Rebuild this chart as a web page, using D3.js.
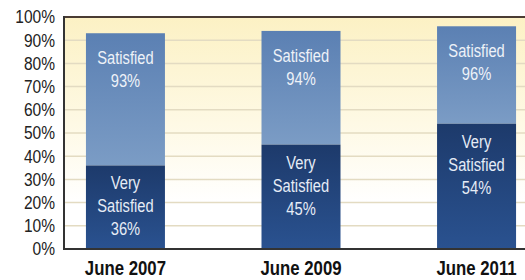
<!DOCTYPE html>
<html lang="en">
<head>
    <meta charset="UTF-8">
    <title>Satisfaction</title>
    <script src="https://d3js.org/d3.v7.min.js"></script>
</head>
<style>
    html,body {
        margin: 0;
        padding: 0;
        background: #fff;
    }
    text {
        font-family: "Liberation Sans", Arial, sans-serif;
    }
</style>
<body>
    <div id="svg"></div>
</body>
<script>
    // data
    const categories = ['June 2007', 'June 2009', 'June 2011'];
    const satisfied = [93, 94, 96];
    const verySatisfied = [36, 45, 54];
    const yTicks = [0, 10, 20, 30, 40, 50, 60, 70, 80, 90, 100];

    const W = 525, H = 280;
    const NARROW = 0.84; // squeeze text to look condensed
    const svg = d3.select('#svg').append('svg')
        .attr('width', W)
        .attr('height', H);

    const x = d3.scaleBand()
        .domain(categories)
        .range([64, 538])
        .paddingInner(0.55)
        .paddingOuter(0.125);
    const y = d3.scaleLinear().domain([0, 100]).range([249, 17]);

    // gradients
    const defs = svg.append('defs');
    function grad(id, stops) {
        const g = defs.append('linearGradient').attr('id', id)
            .attr('x1', 0).attr('y1', 0).attr('x2', 0).attr('y2', 1);
        stops.forEach(s => g.append('stop').attr('offset', s[0]).attr('stop-color', s[1]));
    }
    grad('bg', [[0, '#fcf1c4'], [0.45, '#fef9e4'], [0.8, '#ffffff'], [1, '#ffffff']]);
    grad('light', [[0, '#5b80b3'], [1, '#7b9cc5']]);
    grad('dark', [[0, '#1d3a6b'], [1, '#2a5290']]);

    // plot background
    svg.append('rect')
        .attr('x', 64).attr('y', y(100))
        .attr('width', W - 64).attr('height', y(0) - y(100))
        .attr('fill', 'url(#bg)');

    // grid
    svg.append('g')
        .selectAll('line')
        .data(yTicks.filter(d => d > 0 && d < 100))
        .enter()
        .append('line')
        .attr('x1', 64).attr('x2', W)
        .attr('y1', d => y(d)).attr('y2', d => y(d))
        .attr('stroke', '#e3dbc2')
        .attr('stroke-width', 1.5);

    // y axis labels
    const yAxis = d3.axisLeft(y).tickValues(yTicks).tickFormat(d => d + '%').tickSize(0).tickPadding(9);
    const ya = svg.append('g').attr('transform', 'translate(64,0)').call(yAxis);
    ya.select('.domain').remove();
    ya.selectAll('text')
        .attr('x', -9 / NARROW)
        .attr('transform', `scale(${NARROW},1)`)
        .attr('font-size', 18.5)
        .attr('fill', '#222')
        .style('font-family', '"Liberation Sans", Arial, sans-serif');

    // bars
    const bars = svg.append('g').selectAll('g')
        .data(categories)
        .enter()
        .append('g');
    bars.append('rect')
        .attr('x', d => x(d))
        .attr('y', (d, i) => y(satisfied[i]))
        .attr('width', x.bandwidth())
        .attr('height', (d, i) => y(verySatisfied[i]) - y(satisfied[i]))
        .attr('fill', 'url(#light)');
    bars.append('rect')
        .attr('x', d => x(d))
        .attr('y', (d, i) => y(verySatisfied[i]))
        .attr('width', x.bandwidth())
        .attr('height', (d, i) => y(0) - y(verySatisfied[i]))
        .attr('fill', 'url(#dark)');

    // bar labels
    function label(g, lines, top, color) {
        const t = g.append('text')
            .attr('text-anchor', 'middle')
            .attr('font-size', 17.5)
            .attr('fill', color);
        lines.forEach((s, k) => {
            t.append('tspan')
                .attr('x', 0)
                .attr('y', top + k * 23)
                .text(s);
        });
    }
    bars.each(function (d, i) {
        const g = d3.select(this).append('g')
            .attr('transform', `translate(${x(d) + x.bandwidth() / 2},0) scale(${NARROW},1)`);
        label(g, ['Satisfied', satisfied[i] + '%'], y(satisfied[i]) + 31, '#eef2f8');
        label(g, ['Very', 'Satisfied', verySatisfied[i] + '%'], y(verySatisfied[i]) + 24, '#e6ecf6');
    });

    // frame lines
    svg.append('line')
        .attr('x1', 63).attr('x2', W)
        .attr('y1', y(100)).attr('y2', y(100))
        .attr('stroke', '#4a3c33').attr('stroke-width', 2);
    svg.append('line')
        .attr('x1', 63).attr('x2', W)
        .attr('y1', y(0)).attr('y2', y(0))
        .attr('stroke', '#333').attr('stroke-width', 2);
    svg.append('line')
        .attr('x1', 64).attr('x2', 64)
        .attr('y1', y(100) - 1).attr('y2', y(0) + 1)
        .attr('stroke', '#333').attr('stroke-width', 2);

    // category labels
    svg.append('g')
        .selectAll('text')
        .data(categories)
        .enter()
        .append('text')
        .attr('transform', d => `translate(${x(d) + x.bandwidth() / 2},275) scale(${NARROW},1)`)
        .attr('text-anchor', 'middle')
        .attr('font-size', 20)
        .attr('font-weight', 'bold')
        .attr('fill', '#111')
        .text(d => d);
</script>
</html>
